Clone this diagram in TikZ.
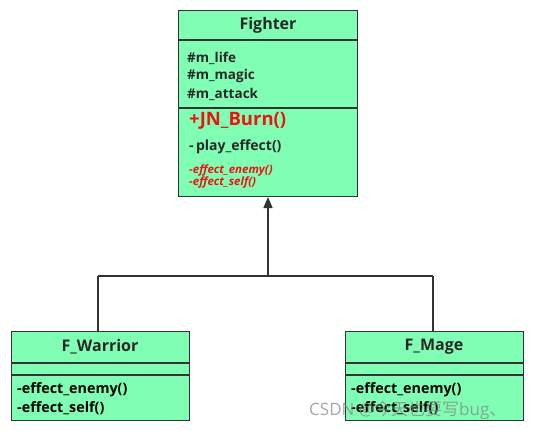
\documentclass[tikz,border=0pt]{standalone}
\usepackage{fontspec}
\setmainfont{Open Sans}
\newfontfamily\cjk{Noto Sans CJK SC}
\usetikzlibrary{arrows.meta}
\definecolor{boxfill}{RGB}{128,255,180}
\definecolor{boxline}{RGB}{51,51,51}
\definecolor{txt}{RGB}{40,40,40}
\definecolor{redtxt}{RGB}{235,20,20}
\begin{document}
\begin{tikzpicture}[x=1pt,y=-1pt,
  classbox/.style={draw=boxline,fill=boxfill,line width=1.4pt,inner sep=0pt,anchor=north west},
  sep/.style={draw=boxline,line width=1.4pt},
  conn/.style={draw=boxline,line width=1.4pt},
  title/.style={font=\fontsize{16}{18}\selectfont\bfseries,text=txt},
  member/.style={font=\fontsize{13.5}{15}\selectfont\bfseries,text=txt,anchor=west,inner sep=0pt},
  submember/.style={font=\fontsize{14.3}{16}\selectfont\bfseries,text=black,anchor=west,inner sep=0pt},
  redm/.style={font=\fontsize{11.5}{12}\selectfont\bfseries\itshape,text=redtxt,anchor=west,inner sep=0pt}]
\useasboundingbox (0,0) rectangle (534,430);
% Fighter
\node[classbox,minimum width=179pt,minimum height=186pt] (fighter) at (178,10) {};
\draw[sep] (178,40) -- (357,40);
\draw[sep] (178,108) -- (357,108);
\node[title] (ftitle) at (268,25) {Fighter};
\node[member] (a1) at (187,58) {\#m\_life};
\node[member] (a2) at (187,76) {\#m\_magic};
\node[member] (a3) at (187,94) {\#m\_attack};
\node[member,text=redtxt,font=\fontsize{18.5}{20}\selectfont\bfseries] (m1) at (189,121) {+JN\_Burn()};
\node[member,font=\fontsize{14}{16}\selectfont\bfseries] (m2) at (189,147) {-\,play\_effect()};
\node[redm] (m3) at (189,170) {-effect\_enemy()};
\node[redm] (m4) at (189,182) {-effect\_self()};
% Warrior
\node[classbox,minimum width=178pt,minimum height=89pt] (warrior) at (11,331) {};
\draw[sep] (11,363) -- (189,363);
\draw[sep] (11,375) -- (189,375);
\node[title] (wtitle) at (100,347) {F\_Warrior};
\node[submember] (w1) at (17,390) {-effect\_enemy()};
\node[submember] (w2) at (17,408) {-effect\_self()};
% Mage
\node[classbox,minimum width=178pt,minimum height=89pt] (mage) at (345,331) {};
\draw[sep] (345,363) -- (523,363);
\draw[sep] (345,375) -- (523,375);
\node[title] (mtitle) at (434,347) {F\_Mage};
\node[submember] (g1) at (351,390) {-effect\_enemy()};
\node[submember] (g2) at (351,408) {-effect\_self()};
% connectors
\coordinate (j) at (268,276);
\coordinate (jl) at (98,276);
\coordinate (jr) at (433,276);
\draw[conn,-{Triangle[width=9pt,length=11pt]}] (j) -- (268,197);
\draw[conn] (jl) -- (jr);
\draw[conn] (jl) -- (98,331);
\draw[conn] (jr) -- (433,331);
% watermark
\node[anchor=west,inner sep=0pt,text=gray,opacity=0.7,font=\fontsize{17}{19}\selectfont] (wm) at (309,410) {CSDN @{\cjk 今天也要写}bug{\cjk 、}};
\end{tikzpicture}
\end{document}
